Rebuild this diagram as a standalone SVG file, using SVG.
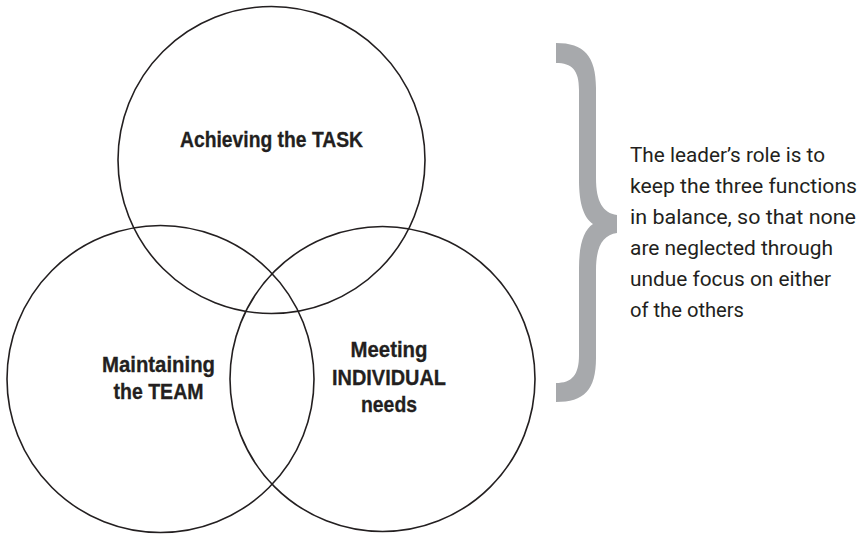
<svg xmlns="http://www.w3.org/2000/svg" width="858" height="534" viewBox="0 0 858 534">
<style>
.c{fill:none;stroke:#231f20;stroke-width:1.6}
.lbl{font-family:"Liberation Sans",Arial,sans-serif;font-weight:bold;font-size:22px;fill:#231f20;stroke:#231f20;stroke-width:0.3;text-anchor:middle}
.note{font-family:Roboto,"Liberation Sans",sans-serif;font-size:20.5px;fill:#231f20}
</style>
<rect width="858" height="534" fill="#ffffff"/>
<g id="task">
<circle class="c" cx="271.5" cy="160" r="153.5"/>
<text class="lbl" x="271.5" y="147" textLength="183" lengthAdjust="spacingAndGlyphs">Achieving the TASK</text>
</g>
<g id="team">
<circle class="c" cx="160.5" cy="379" r="153.5"/>
<text class="lbl" x="158.5" y="372" textLength="113" lengthAdjust="spacingAndGlyphs">Maintaining</text>
<text class="lbl" x="158.5" y="399" textLength="90" lengthAdjust="spacingAndGlyphs">the TEAM</text>
</g>
<g id="individual">
<circle class="c" cx="382.5" cy="379" r="152.5"/>
<text class="lbl" x="389" y="357" textLength="77" lengthAdjust="spacingAndGlyphs">Meeting</text>
<text class="lbl" x="389" y="385" textLength="114" lengthAdjust="spacingAndGlyphs">INDIVIDUAL</text>
<text class="lbl" x="389" y="412" textLength="56" lengthAdjust="spacingAndGlyphs">needs</text>
</g>
<g id="connectors"></g>
<g id="brace">
<path fill="#a7a9ac" d="M556,43 C584,43 596,56 596,88 L596,178 C596,202 603,213 617,215 L617,233 C603,235 596,246 596,270 L596,358 C596,390 584,402 556,402 L556,383 C572,383 579,375 579,355 L579,268 C579,244 584,230 593,224 C584,218 579,204 579,180 L579,90 C579,70 572,63 556,63 Z"/>
</g>
<g id="note">
<text class="note" x="630" y="162" textLength="195" lengthAdjust="spacingAndGlyphs">The leader’s role is to</text>
<text class="note" x="630" y="193" textLength="227" lengthAdjust="spacingAndGlyphs">keep the three functions</text>
<text class="note" x="630" y="224" textLength="226" lengthAdjust="spacingAndGlyphs">in balance, so that none</text>
<text class="note" x="630" y="255" textLength="203" lengthAdjust="spacingAndGlyphs">are neglected through</text>
<text class="note" x="630" y="286" textLength="201" lengthAdjust="spacingAndGlyphs">undue focus on either</text>
<text class="note" x="630" y="317" textLength="114" lengthAdjust="spacingAndGlyphs">of the others</text>
</g>
</svg>
